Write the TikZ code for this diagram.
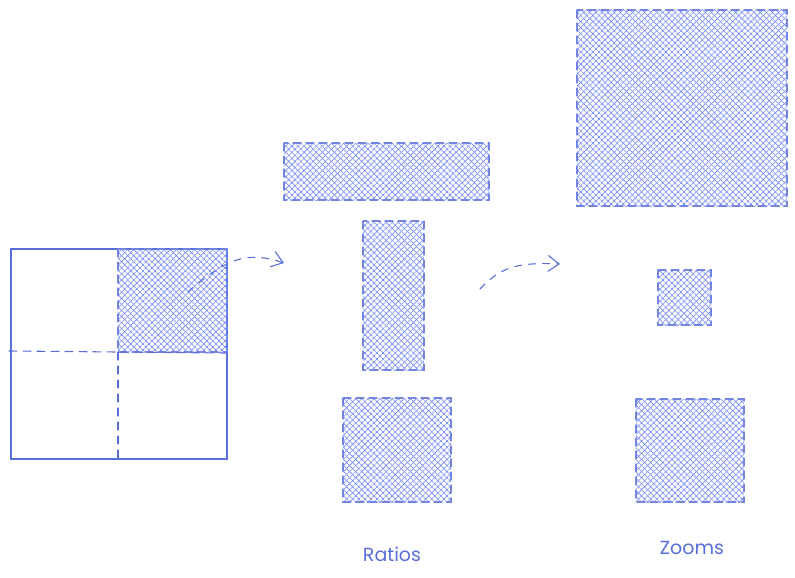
\documentclass[tikz,border=0pt]{standalone}
\usepackage{fontspec}
\setmainfont{Poppins}
\usetikzlibrary{patterns.meta,arrows.meta}
\definecolor{ink}{HTML}{5A6ED8}
\definecolor{hatch}{HTML}{7389F4}
\begin{document}
\begin{tikzpicture}[x=1pt, y=-1pt, line cap=round,
  crop/.style={pattern={Lines[angle=45,distance=4.3pt,line width=0.6pt]}, pattern color=hatch,
    postaction={pattern={Lines[angle=-45,distance=4.3pt,line width=0.6pt]}, pattern color=hatch},
    draw=ink!85, line width=1.1pt, dash pattern=on 8pt off 5pt},
  hop/.style={ink, line width=1.1pt, dash pattern=on 7pt off 7pt,
    -{Straight Barb[length=11pt,width=16pt,line width=1.1pt]}}]
  \useasboundingbox (0,0) rectangle (795,578);
  % source image
  \draw[ink, line width=1.1pt] (11,249) rectangle (227,459);
  \path[crop] (118,249) rectangle (227,352);
  \draw[ink, line width=1.1pt, dash pattern=on 8pt off 6pt] (9,351) -- (227,353);
  \draw[ink, line width=1.1pt, dash pattern=on 8pt off 6pt] (118,352) -- (118,459);
  % arrows
  \coordinate (a1) at (188,292);
  \coordinate (b1) at (284,263);
  \coordinate (a2) at (480,289);
  \coordinate (b2) at (560,264);
  \draw[hop] (a1) .. controls (225,260) and (245,250) .. (b1);
  \draw[hop] (a2) .. controls (500,268) and (515,262) .. (b2);
  % ratios
  \path[crop] (284,143) rectangle (489,200);
  \path[crop] (363,221) rectangle (424,370);
  \path[crop] (343,398) rectangle (451,502);
  % zooms
  \path[crop] (577,10) rectangle (787,206);
  \path[crop] (658,270) rectangle (711,325);
  \path[crop] (636,399) rectangle (744,502);
  % labels
  \node[text=ink, font=\fontsize{19}{23}\selectfont] (ratios) at (392,554) {Ratios};
  \node[text=ink, font=\fontsize{19}{23}\selectfont] (zooms) at (692,548) {Zooms};
\end{tikzpicture}
\end{document}
